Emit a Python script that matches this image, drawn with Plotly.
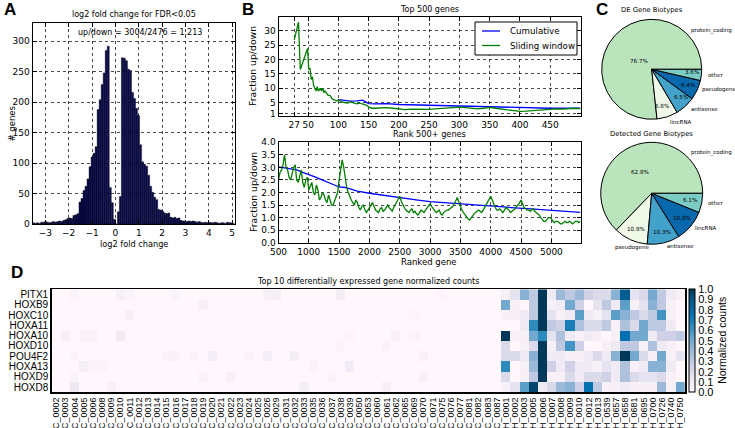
import plotly.graph_objects as go

W, H = 735, 428
def px(x): return x / W
def py(y): return 1 - y / H

# ---------------- data ----------------
# Panel A: histogram of log2 fold change (100 bins from -3.55 to 5.10)
hist_counts = [2, 1, 2, 1, 3, 3, 4, 3, 2, 3,
               4, 3, 4, 5, 4, 6, 7, 9, 10, 9,
               14, 15, 17, 36, 42, 55, 62, 74, 94, 110,
               116, 127, 188, 204, 229, 248, 285, 292, 60, 35,
               8, 0, 20, 45, 273, 272, 268, 254, 252, 216,
               206, 190, 178, 130, 102, 98, 95, 80, 62, 52,
               44, 40, 24, 23, 21, 18, 17, 18, 11, 10,
               11, 9, 10, 6, 5, 5, 4, 5, 4, 5,
               4, 3, 4, 3, 2, 3, 2, 3, 2, 2,
               3, 2, 1, 2, 2, 1, 3, 2, 2, 1]
hist_lo, hist_hi = -3.55, 5.10
bin_w = (hist_hi - hist_lo) / len(hist_counts)
bin_centers = [hist_lo + bin_w * (i + 0.5) for i in range(len(hist_counts))]

# Panel B top: top 500 genes
top_slide_x = [27, 34, 37, 49, 51, 53, 55, 57, 59, 61, 63, 65, 67, 70, 72, 74, 76, 78, 80, 83,
               86, 89, 92, 95, 98, 100, 105, 110, 115, 120, 125, 130, 135, 140, 145, 150, 155, 160,
               170, 180, 190, 200, 210, 220, 230, 240, 250, 260, 270, 280, 290, 300, 310, 320, 330,
               340, 350, 360, 370, 380, 390, 400, 410, 420, 430, 440, 450, 460, 470, 480, 490, 500]
top_slide_y = [26.8, 33, 16.5, 23.8, 16.5, 17, 13, 14, 11, 10, 9, 10.5, 9, 10, 9, 10, 8.5, 9, 8.5, 7.5,
               7.5, 6.5, 6, 5.8, 5.5, 6, 5.2, 5.0, 4.8, 5.2, 4.8, 4.5, 4.8, 4.6, 4.2, 3.5, 3.0, 3.0,
               3.1, 3.2, 3.0, 2.7, 2.5, 2.7, 2.6, 2.7, 2.6, 2.8, 2.9, 3.0, 3.1, 3.4, 3.2, 2.9, 2.8,
               3.0, 3.3, 3.0, 2.6, 2.4, 2.2, 1.9, 2.0, 2.2, 2.4, 2.5, 2.6, 2.8, 2.7, 2.9, 3.0, 2.9]
top_cum_x = [100, 110, 120, 130, 140, 145, 150, 160, 180, 200, 220, 250, 270, 300, 320, 350, 370,
             400, 420, 450, 480, 500]
top_cum_y = [6.0, 5.7, 5.5, 5.6, 5.8, 5.2, 4.6, 4.5, 4.6, 4.3, 4.2, 3.9, 3.8, 3.8, 3.7, 3.6, 3.5,
             3.2, 3.1, 3.0, 3.0, 3.0]

# Panel B bottom: rank 500+ genes
bot_cum_x = [500, 600, 700, 800, 900, 1000, 1100, 1200, 1300, 1400, 1500, 1600, 1700, 1800, 2000,
             2200, 2400, 2600, 2800, 3000, 3200, 3400, 3600, 3800, 4000, 4200, 4400, 4600, 4800,
             5000, 5200, 5480]
bot_cum_y = [3.02, 2.97, 2.93, 2.9, 2.8, 2.72, 2.62, 2.52, 2.42, 2.32, 2.22, 2.2, 2.12, 2.05, 1.97,
             1.9, 1.82, 1.76, 1.7, 1.64, 1.6, 1.56, 1.52, 1.48, 1.45, 1.42, 1.39, 1.36, 1.32,
             1.29, 1.26, 1.21]
bot_slide_x = list(range(500, 5476, 25)) + [5480]
bot_slide_y = [2.5, 2.8, 2.9, 3.1, 3.5, 3.0, 2.9, 2.6, 2.5, 2.8, 3.0, 3.1, 2.5, 2.4, 2.7, 2.9,
               2.4, 2.2, 2.5, 2.6, 2.1, 2.3, 2.4, 2.0, 1.9, 2.3, 2.1, 1.7, 1.8, 2.0, 1.9, 1.7,
               1.6, 1.9, 1.7, 1.5, 1.5, 1.7, 1.8, 2.0, 2.5, 2.9, 3.3, 3.0, 2.5, 2.2, 2.0, 1.8,
               1.7, 1.6, 1.5, 1.7, 1.6, 1.4, 1.3, 1.45, 1.5, 1.3, 1.2, 1.3, 1.4, 1.5, 1.6, 1.45,
               1.3, 1.25, 1.2, 1.35, 1.4, 1.25, 1.3, 1.4, 1.5, 1.4, 1.3, 1.25, 1.4, 1.5, 1.6, 1.7,
               1.85, 1.65, 1.5, 1.4, 1.3, 1.25, 1.2, 1.3, 1.35, 1.2, 1.25, 1.15, 1.1, 1.2, 1.3, 1.25,
               1.2, 1.3, 1.4, 1.45, 1.55, 1.45, 1.35, 1.25, 1.2, 1.25, 1.3, 1.15, 1.1, 1.2, 1.25, 1.3,
               1.3, 1.35, 1.4, 1.45, 1.55, 1.7, 1.8, 1.6, 1.4, 1.3, 1.2, 1.1, 1.0, 0.95, 0.9, 1.0,
               1.1, 1.15, 1.2, 1.25, 1.3, 1.25, 1.2, 1.3, 1.4, 1.5, 1.6, 1.75, 1.85, 1.7, 1.5, 1.4,
               1.3, 1.3, 1.35, 1.25, 1.2, 1.3, 1.4, 1.35, 1.3, 1.2, 1.25, 1.3, 1.35, 1.45, 1.5, 1.6,
               1.7, 1.55, 1.4, 1.35, 1.3, 1.3, 1.25, 1.3, 1.35, 1.25, 1.2, 1.15, 1.1, 1.0, 0.9, 0.85,
               0.85, 0.95, 1.0, 1.0, 0.95, 0.85, 0.8, 0.85, 0.85, 0.8, 0.75, 0.75, 0.8, 0.85, 0.8, 0.8,
               0.85, 0.8, 0.75, 0.8, 0.85, 0.85, 0.8, 0.85, 0.85]

# Panel C: biotype pies
de_labels = ["protein_coding", "lincRNA", "antisense", "pseudogene", "other"]
de_values = [76.7, 6.8, 6.5, 6.4, 3.6]
det_labels = ["protein_coding", "pseudogene", "antisense", "lincRNA", "other"]
det_values = [62.8, 10.8, 10.3, 10.0, 6.1]

# Panel D: heatmap
genes = ["PITX1", "HOXB9", "HOXC10", "HOXA11", "HOXA10", "HOXD10", "POU4F2", "HOXA13", "HOXD9", "HOXD8"]
c_samples = ["C_0002", "C_0003", "C_0004", "C_0005", "C_0006", "C_0008", "C_0009", "C_0010", "C_0011",
             "C_0012", "C_0013", "C_0014", "C_0015", "C_0016", "C_0017", "C_0018", "C_0019", "C_0020",
             "C_0021", "C_0022", "C_0023", "C_0024", "C_0025", "C_0026", "C_0029", "C_0031", "C_0032",
             "C_0033", "C_0035", "C_0036", "C_0037", "C_0038", "C_0039", "C_0050", "C_0053", "C_0060",
             "C_0061", "C_0062", "C_0065", "C_0069", "C_0070", "C_0071", "C_0075", "C_0076", "C_0077",
             "C_0081", "C_0082", "C_0083", "C_0087"]
h_samples = ["H_0001", "H_0002", "H_0003", "H_0005", "H_0006", "H_0007", "H_0008", "H_0009", "H_0010",
             "H_0012", "H_0013", "H_0539", "H_0657", "H_0658", "H_0681", "H_0695", "H_0700", "H_0726",
             "H_0740", "H_0750"]
# faint C-sample values: {gene_index: {sample_index: value}}, all others 0
c_faint = {
    0: {2: 0.04, 7: 0.06, 8: 0.03, 13: 0.03, 23: 0.05, 24: 0.07, 31: 0.08, 42: 0.02},
    1: {16: 0.05},
    2: {8: 0.06, 39: 0.02},
    3: {},
    4: {1: 0.06, 3: 0.04, 4: 0.04, 7: 0.1, 32: 0.03, 37: 0.05, 39: 0.04},
    5: {31: 0.03, 36: 0.04},
    6: {2: 0.03, 12: 0.04, 13: 0.04, 15: 0.03, 17: 0.07, 21: 0.04, 23: 0.07, 26: 0.07, 40: 0.05},
    7: {3: 0.07, 4: 0.03, 5: 0.03, 28: 0.04, 32: 0.09},
    8: {2: 0.04, 16: 0.04, 19: 0.05, 30: 0.03, 40: 0.05},
    9: {2: 0.12, 6: 0.05, 27: 0.07, 36: 0.06},
}
h_values = [
    [0.05, 0.15, 0.45, 0.30, 1.00, 0.10, 0.40, 0.30, 0.40, 0.25, 0.20, 0.20, 0.45, 0.85, 0.15, 0.20, 0.50, 0.30, 0.10, 0.05],
    [0.50, 0.05, 0.00, 0.30, 1.00, 0.05, 0.10, 0.50, 0.25, 0.00, 0.15, 0.30, 0.10, 0.55, 0.05, 0.15, 0.45, 0.30, 0.05, 0.00],
    [0.05, 0.05, 0.10, 0.30, 1.00, 0.15, 0.05, 0.10, 0.55, 0.10, 0.05, 0.15, 0.55, 0.45, 0.30, 0.20, 0.30, 0.60, 0.05, 0.00],
    [0.00, 0.00, 0.10, 0.65, 1.00, 0.30, 0.25, 0.70, 0.35, 0.20, 0.20, 0.30, 0.05, 0.35, 0.20, 0.50, 0.30, 0.30, 0.10, 0.00],
    [1.00, 0.05, 0.05, 0.50, 0.65, 0.15, 0.35, 0.10, 0.05, 0.10, 0.05, 0.00, 0.05, 0.75, 0.50, 0.50, 0.10, 0.25, 0.25, 0.30],
    [0.20, 0.00, 0.05, 0.20, 1.00, 0.05, 0.30, 0.60, 0.25, 0.00, 0.00, 0.05, 0.10, 0.30, 0.30, 0.05, 0.35, 0.10, 0.05, 0.00],
    [0.20, 0.20, 0.10, 0.45, 1.00, 0.10, 0.10, 0.05, 0.05, 0.10, 0.20, 0.10, 0.45, 1.00, 0.50, 0.20, 0.05, 0.50, 0.05, 0.15],
    [0.65, 0.00, 0.05, 0.40, 1.00, 0.25, 0.10, 0.25, 0.10, 0.10, 0.05, 0.15, 0.10, 0.35, 0.05, 0.10, 0.45, 0.45, 0.10, 0.00],
    [0.20, 0.00, 0.05, 0.30, 1.00, 0.05, 0.05, 0.20, 0.10, 0.20, 0.20, 0.25, 0.10, 0.35, 0.20, 0.15, 0.15, 0.20, 0.05, 0.00],
    [0.05, 0.15, 0.55, 0.95, 0.10, 0.20, 0.40, 0.45, 0.25, 0.75, 0.30, 0.05, 0.05, 0.10, 0.05, 0.05, 0.05, 0.40, 0.05, 0.50],
]

samples = c_samples + h_samples
z = []
for gi in range(len(genes)):
    row = [c_faint[gi].get(ci, 0.0) for ci in range(len(c_samples))] + h_values[gi]
    z.append(row)

# ---------------- styling ----------------
FONT = "DejaVu Sans"
ARIAL = "Liberation Sans"
BLUE = "#0000ff"
GREEN = "#008000"
PUBU = [[0.0, "#fff7fb"], [0.125, "#ece7f2"], [0.25, "#d0d1e6"], [0.375, "#a6bddb"],
        [0.5, "#74a9cf"], [0.625, "#3690c0"], [0.75, "#0570b0"], [0.875, "#045a8d"], [1.0, "#023858"]]
GNBU5 = ["#bae4bc", "#f0f9e8", "#43a2ca", "#0868ac", "#7bccc4"]

fig = go.Figure()

# A: histogram
fig.add_trace(go.Bar(x=bin_centers, y=hist_counts, width=bin_w,
                     marker=dict(color="#0b0b55", line=dict(color="black", width=0.4)),
                     xaxis="x", yaxis="y", showlegend=False, hoverinfo="skip"))

# B top
fig.add_trace(go.Scatter(x=top_cum_x, y=top_cum_y, mode="lines", line=dict(color=BLUE, width=1.3),
                         name="Cumulative", xaxis="x2", yaxis="y2", showlegend=False))
fig.add_trace(go.Scatter(x=top_slide_x, y=top_slide_y, mode="lines", line=dict(color=GREEN, width=1.3),
                         name="Sliding window", xaxis="x2", yaxis="y2", showlegend=False))
# B bottom
fig.add_trace(go.Scatter(x=bot_cum_x, y=bot_cum_y, mode="lines", line=dict(color=BLUE, width=1.3),
                         showlegend=False, xaxis="x3", yaxis="y3"))
fig.add_trace(go.Scatter(x=bot_slide_x, y=bot_slide_y, mode="lines", line=dict(color=GREEN, width=1.3),
                         showlegend=False, xaxis="x3", yaxis="y3"))

# C: pies (first slice starts at 3 o'clock and runs counter-clockwise)
def pie(values, labels, cx, cy, r):
    rot = 90 + 360 * (1 - values[0] / sum(values))
    return go.Pie(values=values, labels=labels, sort=False, direction="counterclockwise", rotation=rot,
                  marker=dict(colors=GNBU5, line=dict(color="black", width=1)),
                  textinfo="none", hoverinfo="label+percent", showlegend=False,
                  domain=dict(x=[px(cx - r), px(cx + r)], y=[py(cy + r), py(cy - r)]))
fig.add_trace(pie(de_values, de_labels, 651.7, 69.3, 50))
fig.add_trace(pie(det_values, det_labels, 651.7, 193.3, 51))

# D: heatmap
fig.add_trace(go.Heatmap(z=z, x=samples, y=genes, colorscale=PUBU, zmin=0, zmax=1,
                         xaxis="x4", yaxis="y4",
                         colorbar=dict(x=px(689.3), xanchor="left", y=py(392.3), yanchor="bottom",
                                       len=103 / H, lenmode="fraction", thickness=6,
                                       outlinecolor="black", outlinewidth=1,
                                       tickvals=[i / 10 for i in range(11)],
                                       ticktext=["%.1f" % (i / 10) for i in range(11)],
                                       ticks="", tickfont=dict(family=ARIAL, size=11, color="black"),
                                       xpad=0, ypad=0)))

axis_common = dict(showline=True, linecolor="black", linewidth=1, mirror="ticks", ticks="inside",
                   ticklen=4, tickcolor="black", showgrid=True, gridcolor="black", griddash="dot",
                   gridwidth=0.7, zeroline=False, tickfont=dict(family=FONT, size=9, color="black"))

fig.update_layout(
    width=W, height=H, margin=dict(l=0, r=0, t=0, b=0, autoexpand=False), autosize=False,
    paper_bgcolor="white", plot_bgcolor="white", bargap=0, showlegend=False,
    font=dict(family=FONT, color="black"),
    xaxis=dict(domain=[px(32.5), px(234.5)], range=[hist_lo, hist_hi], anchor="y",
               tickvals=list(range(-3, 6)), ticktext=[("−%d" % -v) if v < 0 else str(v) for v in range(-3, 6)],
               **axis_common),
    yaxis=dict(domain=[py(224), py(23)], range=[0, 330], anchor="x",
               tickvals=list(range(0, 301, 50)), **axis_common),
    xaxis2=dict(domain=[px(278.5), px(580.5)], range=[1, 500], anchor="y2",
                tickvals=[27, 50, 100, 150, 200, 250, 300, 350, 400, 450], **axis_common),
    yaxis2=dict(domain=[py(115.7), py(17)], range=[0.4, 34.8], anchor="x2",
                tickvals=[1, 5, 10, 15, 20, 25, 30], **axis_common),
    xaxis3=dict(domain=[px(278.5), px(580.5)], range=[500, 5480], anchor="y3",
                tickvals=list(range(500, 5001, 500)), **axis_common),
    yaxis3=dict(domain=[py(242.7), py(142.3)], range=[0, 4], anchor="x3",
                tickvals=[i / 2 for i in range(9)], ticktext=["%.1f" % (i / 2) for i in range(9)],
                **axis_common),
    xaxis4=dict(domain=[px(51.7), px(685)], anchor="y4", showline=True, linecolor="black", linewidth=1.5,
                mirror=True, ticks="", tickangle=-90, showgrid=False, zeroline=False,
                tickmode="array", tickvals=samples, ticktext=samples,
                tickfont=dict(family=ARIAL, size=9, color="black")),
    yaxis4=dict(domain=[py(392.3), py(289.3)], anchor="x4", autorange="reversed", showline=True,
                linecolor="black", linewidth=1.5, mirror=True, ticks="", showgrid=False, zeroline=False,
                tickmode="array", tickvals=genes, ticktext=genes,
                tickfont=dict(family=ARIAL, size=10, color="black")),
)

# manual legend for panel B (top)
shapes = [
    dict(type="rect", xref="paper", yref="paper", x0=px(475), x1=px(577), y0=py(55), y1=py(22),
         line=dict(color="black", width=1), fillcolor="white", layer="above"),
    dict(type="line", xref="paper", yref="paper", x0=px(482), x1=px(500), y0=py(31), y1=py(31),
         line=dict(color=BLUE, width=1.3), layer="above"),
    dict(type="line", xref="paper", yref="paper", x0=px(482), x1=px(500), y0=py(45.5), y1=py(45.5),
         line=dict(color=GREEN, width=1.3), layer="above"),
]

ann = []
def text(x, y, s, size=9, family=FONT, xanchor="center", yanchor="middle", angle=0, bold=False):
    ann.append(dict(x=px(x), y=py(y), xref="paper", yref="paper", text=("<b>%s</b>" % s) if bold else s,
                    showarrow=False, xanchor=xanchor, yanchor=yanchor, textangle=angle,
                    font=dict(family=family, size=size, color="black")))

text(508, 31, "Cumulative", 8.7, xanchor="left")
text(508, 45.5, "Sliding window", 8.7, xanchor="left")

# panel letters
text(10, 10, "A", 17, ARIAL, bold=True)
text(248, 10, "B", 17, ARIAL, bold=True)
text(602, 10, "C", 17, ARIAL, bold=True)
text(17, 272, "D", 17, ARIAL, bold=True)

# A texts
text(133.5, 15, "log2 fold change for FDR&lt;0.05", 8)
text(140, 32, "up/down = 3004/2476 = 1.213", 8)
text(133.5, 244, "log2 fold change", 8.2)
text(12, 123.5, "# genes", 8.5, angle=-90)

# B texts
text(429, 9, "Top 500 genes", 8)
text(429, 134, "Rank 500+ genes", 8.2)
text(429, 262, "Ranked gene", 8.5)
text(253, 66, "Fraction up/down", 9.3, angle=-90)
text(253, 192, "Fraction up/down", 9.3, angle=-90)

# C texts
text(651.7, 10, "DE Gene Biotypes", 6.8)
text(651.7, 134, "Detected Gene Biotypes", 6.8)
for (x, y, s) in [(639, 61, "76.7%"), (692, 72, "3.6%"), (688, 85, "6.4%"), (681, 97, "6.5%"), (662, 106, "6.8%"),
                  (640, 172, "62.8%"), (690, 200, "6.1%"), (682, 218, "10.0%"), (662, 232, "10.3%"), (636, 229, "10.8%")]:
    text(x, y, s, 5.6)
for (x, y, s) in [(689, 31, "protein_coding"), (706, 75, "other"), (700, 90, "pseudogene"), (689, 108.5, "antisense"),
                  (668, 121.5, "lincRNA"), (689, 153, "protein_coding"), (706, 203, "other"), (693, 228, "lincRNA"),
                  (665, 246, "antisense")]:
    text(x, y, s, 5.5, xanchor="left")
text(632, 248, "pseudogene", 5.5)

# D texts
text(368, 281, "Top 10 differentially expressed gene normalized counts", 8)
text(722, 340.8, "Normalized counts", 10.5, ARIAL, angle=-90)

fig.update_layout(annotations=ann, shapes=shapes)
fig.write_html("out.html", config={"displayModeBar": False, "staticPlot": True},
               post_script="document.body.style.margin='0';document.body.style.padding='0';"
                           "document.documentElement.style.overflow='hidden';")
